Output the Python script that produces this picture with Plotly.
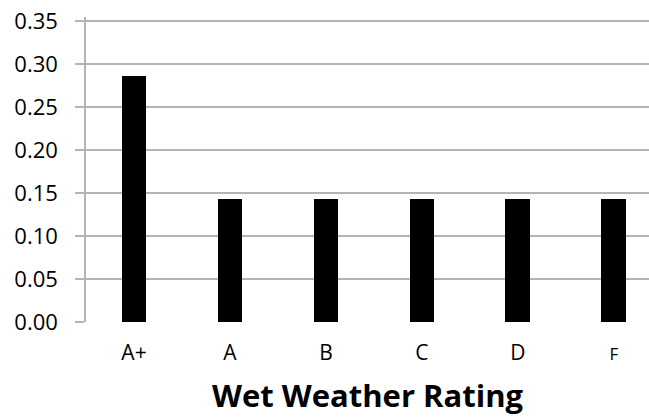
import plotly.graph_objects as go

categories = ["A+", "A", "B", "C", "D", "F"]
values = [0.286, 0.143, 0.143, 0.143, 0.143, 0.143]
tick_labels = ["A+", "A", "B", "C", "D", "<span style='font-size:17px'>F</span>"]
y_ticks = [0.00, 0.05, 0.10, 0.15, 0.20, 0.25, 0.30, 0.35]

grid_col = "#b4b4b4"

fig = go.Figure(go.Bar(
    x=list(range(len(categories))),
    y=values,
    width=0.26,
    marker=dict(color="black", line=dict(width=0)),
))

fig.update_layout(
    width=649, height=419,
    margin=dict(l=86, r=0, t=17, b=97),
    paper_bgcolor="white", plot_bgcolor="white",
    font=dict(family="Open Sans", color="black"),
    showlegend=False,
    bargap=0,
)
fig.update_xaxes(
    range=[-0.5, 5.365],
    tickmode="array",
    tickvals=list(range(len(categories))),
    ticktext=tick_labels,
    tickfont=dict(size=21),
    showgrid=False, zeroline=False,
    showline=False,
    ticks="",
    ticklabelstandoff=16,
    title=dict(text="<b>Wet Weather Rating</b>", font=dict(size=31), standoff=20),
)
fig.update_yaxes(
    range=[0, 0.355],
    tickmode="array",
    tickvals=y_ticks,
    ticktext=[f"{v:.2f}" for v in y_ticks],
    tickfont=dict(size=22),
    ticklabeloverflow="allow",
    showgrid=True, gridcolor=grid_col, gridwidth=1.5,
    zeroline=False,
    showline=True, linecolor=grid_col, linewidth=1.5,
    ticks="outside", ticklen=9, tickcolor=grid_col, tickwidth=1.5,
    ticklabelstandoff=13,
)
fig.add_hline(y=y_ticks[-1], line=dict(color=grid_col, width=1.5), layer="below")

fig.write_html(
    "out.html",
    config={"displayModeBar": False},
    post_script="document.body.style.margin='0px';document.body.style.overflow='hidden';",
)
